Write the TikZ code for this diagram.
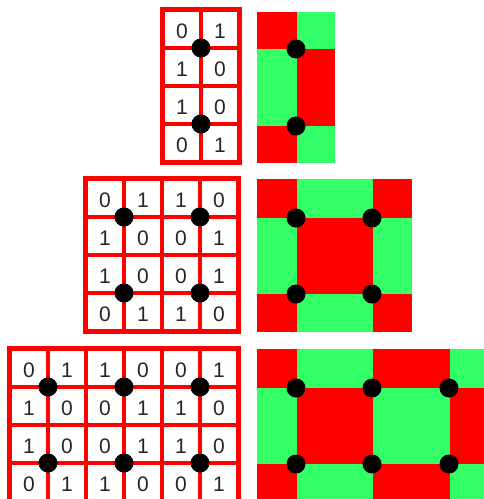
\documentclass[tikz,border=0pt]{standalone}
\usepackage{fontspec}
\setmainfont{Liberation Sans}
\definecolor{gridred}{RGB}{255,0,0}
\definecolor{cgreen}{RGB}{51,255,102}
\tikzset{
  digit/.style={font=\fontsize{21}{21}\selectfont, inner sep=0pt, anchor=center, text=black!85},
  dotmark/.style={fill=black},
  redfill/.style={fill=gridred},
  greenfill/.style={fill=cgreen},
  cellfill/.style={fill=white},
}
% #1 name, #2 left, #3 top, #4 last column index
\newcommand\bitgrid[4]{%
  \fill[redfill] (#2,#3) rectangle ({#2+10+(#4+1)*34+#4*4},{#3+158});
  \foreach \r in {0,...,3}{%
    \foreach \c in {0,...,#4}{%
      \pgfmathtruncatemacro\bitv{mod(floor((\c+1)/2)+(\r==1)+(\r==2),2)}%
      \fill[cellfill] ({#2+5+\c*38},{#3+5+\r*38}) rectangle ++(34,34);
      \node[digit] (#1-\r-\c) at ({#2+5+\c*38+17},{#3+5+\r*38+19}) {\bitv};
    }%
  }%
}
\newcommand\griddots[3]{%
  \foreach \k in {#3}{%
    \foreach \j in {1,3}{%
      \fill[dotmark] ({#1+3+\k*38},{#2+3+\j*38}) circle (9.5);
    }%
  }%
}
\begin{document}
\begin{tikzpicture}[x=1pt,y=-1pt]
\useasboundingbox (0,0) rectangle (484,499);
\clip (0,0) rectangle (484,499);

% ---- left grids ----
\bitgrid{ga}{160}{7}{1}
\griddots{160}{7}{1}
\bitgrid{gb}{83}{176}{3}
\griddots{83}{176}{1,3}
\bitgrid{gc}{7}{346}{5}
\griddots{7}{346}{1,3,5}

% ---- top coloured panel ----
\fill[redfill] (257,12) rectangle (335,163);
\fill[greenfill] (297,12) rectangle (335,49);
\fill[greenfill] (257,49) rectangle (297,126);
\fill[greenfill] (297,126) rectangle (335,163);
\foreach \y in {49,126}{\fill[dotmark] (296,\y) circle (9.5);}

% ---- middle coloured panel ----
\fill[redfill] (257,179) rectangle (412,332);
\fill[greenfill] (297,179) rectangle (373,218);
\fill[greenfill] (257,218) rectangle (297,294);
\fill[greenfill] (373,218) rectangle (412,294);
\fill[greenfill] (297,294) rectangle (373,332);
\foreach \x in {296,372}{\foreach \y in {218,294}{\fill[dotmark] (\x,\y) circle (9.5);}}

% ---- bottom coloured panel ----
\fill[redfill] (257,349) rectangle (484,499);
\fill[greenfill] (297,349) rectangle (373,388);
\fill[greenfill] (450,349) rectangle (484,388);
\fill[greenfill] (257,388) rectangle (297,464);
\fill[greenfill] (373,388) rectangle (450,464);
\fill[greenfill] (297,464) rectangle (373,499);
\fill[greenfill] (450,464) rectangle (484,499);
\foreach \x in {296,372,449}{\foreach \y in {388,464}{\fill[dotmark] (\x,\y) circle (9.5);}}
\end{tikzpicture}
\end{document}
